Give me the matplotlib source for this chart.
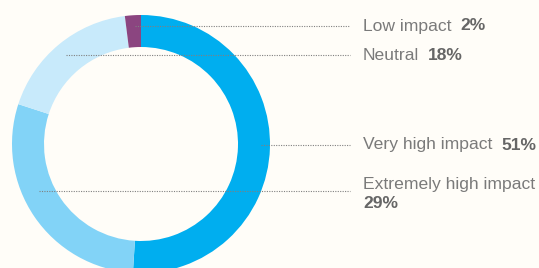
import matplotlib
matplotlib.use("Agg")
import matplotlib.pyplot as plt

labels = ["Very high impact", "Extremely high impact", "Neutral", "Low impact"]
values = [51, 29, 18, 2]
pct_text = ["51%", "29%", "18%", "2%"]
colors = ["#00AEEF", "#82D3F7", "#C8EAFB", "#8B4580"]

BG = "#FFFDF8"
W, H = 539, 268

fig = plt.figure(figsize=(W / 100, H / 100), dpi=100, facecolor=BG)
ax = fig.add_axes([0, 0, 1, 1])
ax.set_xlim(0, W)
ax.set_ylim(0, H)
ax.set_facecolor(BG)
ax.axis("off")

cx, cy, r = 141, 124, 129
ax.pie(values, colors=colors, startangle=90, counterclock=False,
       center=(cx, cy), radius=r, frame=True,
       wedgeprops=dict(width=32, linewidth=0))
ax.set_xlim(0, W)
ax.set_ylim(0, H)
ax.set_aspect("auto")
ax.axis("off")

# leader lines: (label index, start x, y)
leaders = [(3, 135, 242), (2, 66, 213), (0, 261, 123), (1, 39, 77)]
for i, x0, y in leaders:
    ax.plot([x0, 350], [y, y], color="#808080", lw=0.8, ls=(0, (1, 1.2)))

fs = 12.6
txt_col = "#7a7a7a"
bold_col = "#666666"
fig.canvas.draw()
renderer = fig.canvas.get_renderer()

for i, y in [(3, 242), (2, 213), (0, 123)]:
    t = ax.text(363, y, labels[i], fontsize=fs, color=txt_col,
                family="Liberation Sans", va="center")
    bb = t.get_window_extent(renderer)
    ax.text(bb.x1 + 9, y, pct_text[i], fontsize=fs, color=bold_col,
            family="Liberation Sans", weight="bold", va="center")

ax.text(363, 84, labels[1], fontsize=fs, color=txt_col,
        family="Liberation Sans", va="center")
ax.text(363, 65, pct_text[1], fontsize=fs, color=bold_col,
        family="Liberation Sans", weight="bold", va="center")

fig.savefig("out.png", dpi=100, facecolor=BG)
